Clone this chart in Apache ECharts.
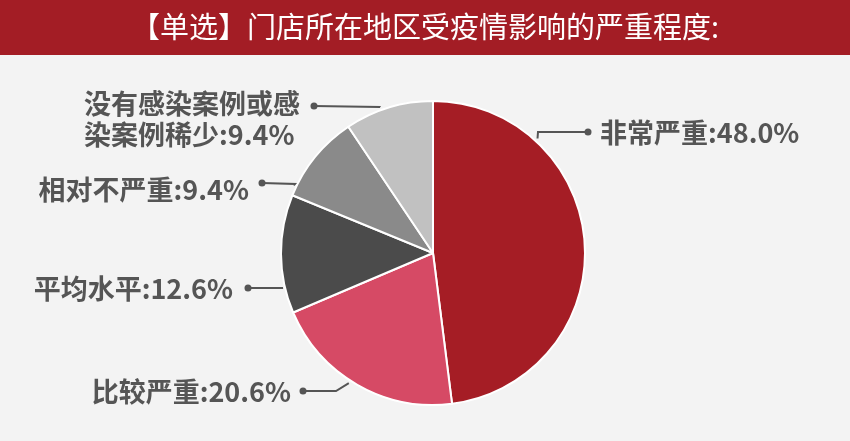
<!DOCTYPE html>
<html>
<head>
<meta charset="utf-8">
<script src="https://cdn.jsdelivr.net/npm/echarts@6/dist/echarts.min.js"></script>
<style>
  html, body { margin: 0; padding: 0; background: #f3f3f3; }
  #chart { width: 850px; height: 441px; }
</style>
</head>
<body>
<div id="chart"></div>
<script>
// ---- data ----
const titleText = '【单选】门店所在地区受疫情影响的严重程度:';
const categories = ['非常严重', '比较严重', '平均水平', '相对不严重', '没有感染案例或感\n染案例稀少'];
const values = [48.0, 20.6, 12.6, 9.4, 9.4];

// ---- layout (label placement) ----
const CX = 433, CY = 253, R = 152;
const LABEL_LAYOUT = [
  { deg: 47.6,  elbow: [538, 132], dot: [588, 132], text: [600, 133], align: 'left' },
  { deg: 237.1, elbow: [336, 391], dot: [303, 391], text: [291, 392], align: 'right' },
  { deg: 193.1, elbow: [283, 288], dot: [248, 288], text: [233, 289], align: 'right' },
  { deg: 154.1, elbow: [295, 184], dot: [262, 183], text: [249, 190], align: 'right' },
  { deg: 109.9, elbow: [380, 107], dot: [314, 106], text: [84, 119],  align: 'left' }
];
const COLORS = ['#a51d25', '#d64a65', '#4b4b4b', '#8a8a8a', '#c1c1c1'];

const chart = echarts.init(document.getElementById('chart'));

const graphics = [
  { type: 'rect', shape: { x: 0, y: 0, width: 850, height: 55 }, style: { fill: '#a31d25' }, z: 0 }
].concat(LABEL_LAYOUT.map(L => ({
  type: 'circle', shape: { cx: L.dot[0], cy: L.dot[1], r: 3.5 }, style: { fill: '#555' }, z: 10
})));

chart.setOption({
  backgroundColor: '#f3f3f3',
  animation: false,
  title: {
    text: titleText,
    left: 'center',
    top: 12,
    padding: 0,
    textStyle: {
      color: '#ffffff',
      fontSize: 29,
      lineHeight: 29,
      fontWeight: 'normal',
      fontFamily: 'Noto Sans CJK SC'
    },
    z: 5
  },
  graphic: graphics,
  series: [{
    type: 'pie',
    center: [CX, CY],
    radius: R,
    startAngle: 90,
    clockwise: true,
    avoidLabelOverlap: false,
    itemStyle: { borderColor: '#ffffff', borderWidth: 2 },
    data: categories.map((name, i) => ({ name: name, value: values[i], itemStyle: { color: COLORS[i] } })),
    label: {
      show: true,
      position: 'outside',
      formatter: function (p) {
        const lines = p.name.split('\n');
        lines[lines.length - 1] += ':' + p.value.toFixed(1) + '%';
        return lines.map(s => '{t|' + s + '}').join('\n');
      },
      rich: {
        t: {
          fontSize: 27,
          lineHeight: 31,
          fontWeight: 'bold',
          color: '#555555',
          fontFamily: 'Noto Sans CJK SC'
        }
      }
    },
    labelLine: {
      show: true,
      lineStyle: { color: '#555555', width: 2 }
    },
    labelLayout: function (params) {
      const L = LABEL_LAYOUT[params.dataIndex];
      const rad = L.deg * Math.PI / 180;
      const p0 = [CX + (R + 3) * Math.cos(rad), CY - (R + 3) * Math.sin(rad)];
      return {
        x: L.text[0],
        y: L.text[1],
        align: L.align,
        verticalAlign: 'middle',
        labelLinePoints: [p0, L.elbow, L.dot]
      };
    }
  }]
});
</script>
</body>
</html>
